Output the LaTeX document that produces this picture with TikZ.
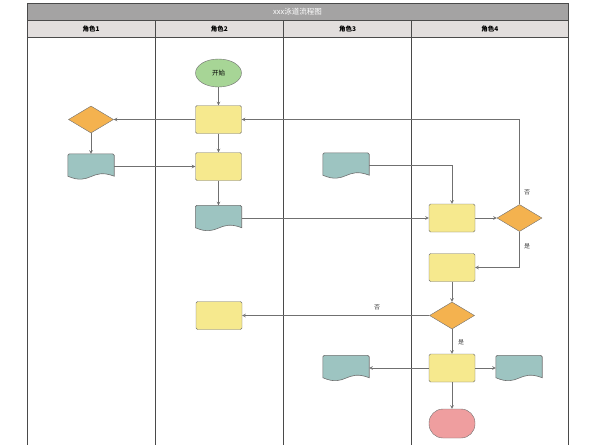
\documentclass[tikz,border=0pt]{standalone}
\usepackage{fontspec}
\setmainfont{Liberation Sans}
\newfontfamily\cjk{Noto Sans CJK SC}
\usepackage{tikz}
\usetikzlibrary{shapes.geometric,calc}
\definecolor{lanegray}{HTML}{4A4A4A}
\definecolor{linegray}{HTML}{707070}
\definecolor{titlefill}{HTML}{A4A3A3}
\definecolor{headfill}{HTML}{E2DEDD}
\definecolor{procfill}{HTML}{F6E98E}
\definecolor{decfill}{HTML}{F4B24F}
\definecolor{docfill}{HTML}{9DC4C1}
\definecolor{startfill}{HTML}{A7D596}
\definecolor{endfill}{HTML}{EF9E9F}
\tikzset{
  proc/.style={draw=linegray, fill=procfill, rounded corners=1.5pt, minimum width=46pt, minimum height=28pt, inner sep=0pt},
  decide/.style={diamond, draw=linegray, fill=decfill, minimum width=45pt, minimum height=27pt, inner sep=0pt},
  docnode/.style={minimum width=46pt, minimum height=25pt, inner sep=0pt},
  startnode/.style={ellipse, draw=linegray, fill=startfill, minimum width=46pt, minimum height=28pt, inner sep=0pt, font=\cjk\fontsize{6.5}{7}\selectfont},
  endnode/.style={draw=linegray, fill=endfill, rounded corners=14pt, minimum width=46pt, minimum height=29pt, inner sep=0pt},
  link/.style={draw=linegray, line width=0.6pt, -stealth},
  lbl/.style={font=\cjk\fontsize{6}{7}\selectfont, text=black!75, inner sep=0pt},
  headtext/.style={font=\cjk\bfseries\fontsize{6.5}{7}\selectfont, inner sep=0pt}
}
\begin{document}
\begin{tikzpicture}[x=1pt,y=-1pt]
\useasboundingbox (0,0) rectangle (600,445);
% title bar and lanes
\draw[draw=lanegray, fill=titlefill, line width=0.8pt] (27,3.3) rectangle (568,20.7);
\node[headtext, text=white, font=\cjk\fontsize{7.5}{8}\selectfont] (title) at (297.5,12) {xxx泳道流程图};
\foreach \i/\xa/\xb in {1/27/155,2/155/283.5,3/283.5/411.5,4/411.5/568}{
  \draw[draw=lanegray, fill=headfill, line width=0.8pt] (\xa,20.7) rectangle (\xb,37.3);
  \node[headtext] (h\i) at ({(\xa+\xb)/2},29) {角色\i};
  \draw[lanegray, line width=0.8pt] (\xa,37.3) -- (\xa,445);
}
\draw[lanegray, line width=0.8pt] (568,37.3) -- (568,445);

% shapes
\node[startnode] (start) at (218.5,73) {开始};
\node[proc] (pA) at (218.5,119.5) {};
\node[decide] (dL) at (91,119.5) {};
\node[docnode] (docL) at (91,166.5) {};
\node[proc] (pB) at (218.5,166.5) {};
\node[docnode] (doc2) at (218.5,218) {};
\node[docnode] (doc3) at (346,165.5) {};
\node[proc] (pC) at (452,218) {};
\node[decide] (dR) at (519.5,218) {};
\node[proc] (pD) at (452,267.5) {};
\node[decide] (dM) at (452,315.5) {};
\node[proc] (pE) at (219,315.5) {};
\node[proc] (pF) at (452,368) {};
\node[docnode] (doc4) at (346,368) {};
\node[docnode] (doc5) at (519,368) {};
\node[endnode] (fin) at (452,423.5) {};

% document outlines
\foreach \n in {docL,doc2,doc3,doc4,doc5}{
  \draw[draw=linegray, fill=docfill, line width=0.6pt]
    ([yshift=3pt]\n.south west) -- ([yshift=-1.5pt]\n.north west)
    to[out=90,in=180] ([xshift=1.5pt]\n.north west) -- ([xshift=-1.5pt]\n.north east)
    to[out=0,in=90] ([yshift=-1.5pt]\n.north east) -- ([yshift=3pt]\n.south east)
    .. controls ([yshift=12pt]\n.south) and ([yshift=-7pt]\n.south) .. ([yshift=3pt]\n.south west) -- cycle;
}

% connectors
\draw[link] (start) -- (pA);
\draw[link] (pA) -- (dL);
\draw[link] (dL) -- (docL);
\draw[link] (docL) -- (pB);
\draw[link] (pA) -- (pB);
\draw[link] (pB) -- (doc2);
\draw[link] (doc2) -- (pC);
\draw[link] (doc3.east) -| (pC.north);
\draw[link] (pC) -- (dR);
\draw[link] (dR.north) |- (pA.east);
\draw[link] (dR.south) |- (pD.east);
\draw[link] (pD) -- (dM);
\draw[link] (dM) -- (pE);
\draw[link] (dM) -- (pF);
\draw[link] (pF) -- (doc4);
\draw[link] (pF) -- (doc5);
\draw[link] (pF) -- (fin);

% labels
\node[lbl] (noR) at (527,192) {否};
\node[lbl] (yesR) at (527,246) {是};
\node[lbl] (noM) at (377,307) {否};
\node[lbl] (yesM) at (461,342) {是};
\end{tikzpicture}
\end{document}
